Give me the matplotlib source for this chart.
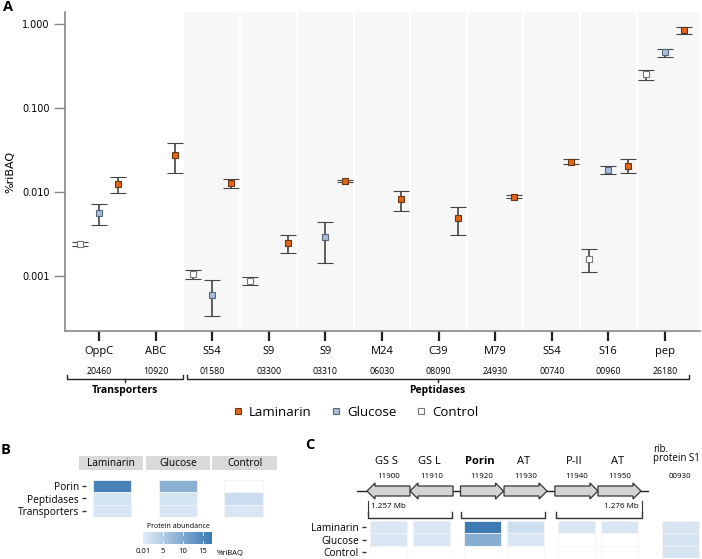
import numpy as np
import matplotlib
matplotlib.use("Agg")
import matplotlib.pyplot as plt
from matplotlib import transforms
from matplotlib.colors import LinearSegmentedColormap, Normalize
from matplotlib.lines import Line2D
from matplotlib.patches import FancyArrow, Rectangle

plt.rcParams['font.family'] = ['Open Sans', 'DejaVu Sans']

# ---- panel A data (%riBAQ) ----
categories = ['OppC', 'ABC', 'S54', 'S9', 'S9', 'M24', 'C39', 'M79', 'S54', 'S16', 'pep']
gene_ids = ['20460', '10920', '01580', '03300', '03310', '06030', '08090', '24930', '00740', '00960', '26180']
nan = np.nan
lam_mean = [0.0123, 0.0273, 0.0127, 0.00247, 0.0135, 0.0082, 0.0049, 0.0088, 0.0230, 0.0206, 0.857]
lam_low = [0.0097, 0.0168, 0.0111, 0.00186, 0.0131, 0.0059, 0.0031, 0.0084, 0.0217, 0.0167, 0.767]
lam_high = [0.0150, 0.0380, 0.0142, 0.00308, 0.0139, 0.0104, 0.0067, 0.0092, 0.0244, 0.0247, 0.930]
glu_mean = [0.0056, nan, 0.00060, nan, 0.00294, nan, nan, nan, nan, 0.0184, 0.460]
glu_low = [0.0041, nan, 0.00033, nan, 0.00143, nan, nan, nan, nan, 0.0165, 0.408]
glu_high = [0.0071, nan, 0.00089, nan, 0.00443, nan, nan, nan, nan, 0.0206, 0.504]
ctl_mean = [0.0024, nan, 0.00105, 0.00088, nan, nan, nan, nan, nan, 0.00159, 0.252]
ctl_low = [0.00225, nan, 0.00091, 0.00078, nan, nan, nan, nan, nan, 0.00111, 0.217]
ctl_high = [0.00255, nan, 0.00119, 0.00098, nan, nan, nan, nan, nan, 0.00207, 0.286]

# ---- panel B data ----
hm_rows = ['Porin', 'Peptidases', 'Transporters']
hm_cols = ['Laminarin', 'Glucose', 'Control']
hm_lam = [16.0, 1.4, 1.1]
hm_glu = [9.0, 1.3, 1.1]
hm_ctl = [nan, 2.4, 0.9]

# ---- panel C data ----
c_genes = ['GS S', 'GS L', 'Porin', 'AT', 'P-II', 'AT']
c_ids = ['11900', '11910', '11920', '11930', '11940', '11950', '00930']
c_lam = [0.9, 0.9, 17.0, 2.2, 0.9, 0.9, 1.2]
c_glu = [0.9, 0.9, 9.5, 1.0, nan, nan, 1.2]
c_ctl = [nan, nan, nan, nan, nan, nan, 1.2]

cmap = LinearSegmentedColormap.from_list('abund', ['#e2edf8', '#3a78b3'])
norm = Normalize(vmin=0.01, vmax=17.3)

W, H = 702, 559
fig = plt.figure(figsize=(W / 100, H / 100), dpi=100)


def rect(x0, y0, x1, y1):
    return [x0 / W, 1 - y1 / H, (x1 - x0) / W, (y1 - y0) / H]


ov = fig.add_axes([0, 0, 1, 1])
ov.set_xlim(0, W)
ov.set_ylim(H, 0)
ov.axis('off')

# ================= panel A =================
ax = fig.add_axes(rect(65, 12, 700, 331))
x = np.arange(len(categories))
ax.set_yscale('log')
ax.set_xlim(-0.6, 10.62)
ax.set_ylim(10 ** -3.655, 10 ** 0.143)
ax.axvspan(1.5, 10.62, color='#f7f7f7', lw=0, zorder=0)
for b in np.arange(2.5, 10, 1):
    ax.axvline(b, color='white', lw=1.5, zorder=0.5)

series = [
    ('Control', -0.34, ctl_mean, ctl_low, ctl_high, 'white', '#777777'),
    ('Glucose', 0.0, glu_mean, glu_low, glu_high, '#a9bdd8', '#55657a'),
    ('Laminarin', 0.34, lam_mean, lam_low, lam_high, '#e0661c', '#6b3510'),
]
for name, off, m, lo, hi, fc, ec in series:
    m, lo, hi = np.array(m), np.array(lo), np.array(hi)
    ok = ~np.isnan(m)
    ax.errorbar(x[ok] + off, m[ok], yerr=[m[ok] - lo[ok], hi[ok] - m[ok]],
                fmt='s', ms=4.6, mfc=fc, mec=ec, mew=0.8,
                ecolor='#444444', elinewidth=1.2, capsize=5.8, capthick=1.2, zorder=3)

ax.set_yticks([0.001, 0.01, 0.1, 1])
ax.set_yticklabels(['0.001', '0.010', '0.100', '1.000'], family='DejaVu Sans', fontsize=7)
ax.yaxis.set_minor_locator(matplotlib.ticker.NullLocator())
ax.tick_params(axis='y', length=8, width=1, color='#888888', pad=3)
ax.set_xticks(x)
ax.set_xticklabels(categories, fontsize=8)
ax.tick_params(axis='x', length=7.5, width=1.6, color='#222222', pad=3)
for s in ['top', 'right']:
    ax.spines[s].set_visible(False)
for s in ['left', 'bottom']:
    ax.spines[s].set_color('#888888')
    ax.spines[s].set_linewidth(1.2)
ax.set_ylabel('%riBAQ', family='DejaVu Sans', fontsize=8, labelpad=5)

bt = transforms.blended_transform_factory(ax.transData, ov.transData)
for i, gid in enumerate(gene_ids):
    ov.text(i, 371, gid, transform=bt, ha='center', va='center', fontsize=6.3)


def bracket_down(x0, x1, y, label):
    ov.plot([x0, x0, x1, x1], [y - 4, y, y, y - 4], transform=bt, color='#222222', lw=1)
    xm = (x0 + x1) / 2
    ov.plot([xm, xm], [y, y + 3], transform=bt, color='#222222', lw=1)
    ov.text(xm, y + 12, label, transform=bt, ha='center', va='center',
            fontsize=7.5, fontweight='bold')


bracket_down(-0.56, 1.48, 379, 'Transporters')
bracket_down(1.55, 10.42, 379, 'Peptidases')

handles = [Line2D([], [], marker='s', ls='', ms=5, mfc=fc, mec=ec, mew=0.8, label=name)
           for name, off, m, lo, hi, fc, ec in series[::-1]]
fig.legend(handles=handles, loc='center', bbox_to_anchor=(356 / W, 1 - 412 / H), ncol=3,
           frameon=False, fontsize=9.5, handlelength=0.6, handletextpad=0.5, columnspacing=1.6)

ov.text(3, 7, 'A', fontsize=10.5, fontweight='bold', ha='left', va='center')
ov.text(1, 450, 'B', fontsize=10.5, fontweight='bold', ha='left', va='center')
ov.text(305, 445, 'C', fontsize=10.5, fontweight='bold', ha='left', va='center')


def cell_color(v):
    return 'white' if np.isnan(v) else cmap(norm(v))


# ================= panel B =================
strips = [(79, 143), (146, 210), (212, 277)]
for (x0, x1), name in zip(strips, hm_cols):
    ov.add_patch(Rectangle((x0, 456), x1 - x0, 14, color='#d9d9d9', lw=0))
    ov.text((x0 + x1) / 2, 463.5, name, ha='center', va='center', fontsize=7.3)

axb = fig.add_axes(rect(86, 480, 277, 517))
axb.set_xlim(-0.396, 2.51)
axb.set_ylim(2.5, -0.5)
for j, col in enumerate([hm_lam, hm_glu, hm_ctl]):
    for i, v in enumerate(col):
        axb.bar(j, 1, bottom=i - 0.5, width=0.58, color=cell_color(v),
                edgecolor='#f4f4f4', lw=0.6)
axb.set_yticks(range(len(hm_rows)))
axb.set_yticklabels(hm_rows, fontsize=7.3)
axb.set_xticks([])
axb.tick_params(axis='y', length=3, width=1, color='#333333', pad=2)
for s in axb.spines.values():
    s.set_visible(False)
axb.patch.set_alpha(0)

# colorbar
axcb = fig.add_axes(rect(143, 532, 212, 544))
grad = np.linspace(0.01, 17.3, 200).reshape(1, -1)
axcb.imshow(grad, cmap=cmap, norm=norm, aspect='auto', extent=[0.01, 17.3, 0, 1])
axcb.set_xlim(0.01, 17.3)
for t in [5, 10, 15]:
    axcb.plot([t, t], [0, 0.25], color='white', lw=0.6)
    axcb.plot([t, t], [0.75, 1], color='white', lw=0.6)
axcb.set_xticks([0.01, 5, 10, 15])
axcb.set_xticklabels(['0.01', '5', '10', '15'], fontsize=5.5)
axcb.tick_params(axis='x', length=0, pad=3)
axcb.set_yticks([])
for s in axcb.spines.values():
    s.set_visible(False)
ov.text(217, 553, '%riBAQ', fontsize=5.5, ha='left', va='center')
ov.text(178, 526.5, 'Protein abundance', fontsize=5, ha='center', va='center')

# ================= panel C =================
c_pos = [0, 0.99, 2.15, 3.15, 4.32, 5.31, 6.71]   # gene slots
c_x0, c_unit = 388.5, 43.5
c_px = [c_x0 + p * c_unit for p in c_pos]
c_dir = [-1, -1, 1, 1, 1, 1]

ov.plot([357, 648], [491, 491], color='#222222', lw=1, zorder=1)
for cx, d in zip(c_px[:6], c_dir):
    start = cx - d * 21.5
    ov.add_patch(FancyArrow(start, 491, d * 43, 0, width=10, head_width=16, head_length=8,
                            length_includes_head=True, fc='#d4d4d4', ec='#333333', lw=0.9,
                            zorder=2))
for cx, g in zip(c_px, c_genes):
    ov.text(cx - 2, 461, g, ha='center', va='center', fontsize=8,
            fontweight='bold' if g == 'Porin' else 'normal')
for cx, gid in zip(c_px, c_ids):
    ov.text(cx, 477, gid, ha='center', va='center', fontsize=5.8)
ov.text(653, 449, 'rib.', ha='left', va='center', fontsize=7)
ov.text(653, 458.5, 'protein S1', ha='left', va='center', fontsize=7)

ov.plot([368, 368], [501, 512], color='#333333', lw=0.8)
ov.plot([642, 642], [501, 512], color='#333333', lw=0.8)
ov.text(371, 507, '1.257 Mb', ha='left', va='center', fontsize=5.8)
ov.text(639, 507, '1.276 Mb', ha='right', va='center', fontsize=5.8)
for x0, x1 in [(368, 452), (461, 545), (556, 642)]:
    ov.plot([x0, x0, x1, x1], [512, 518, 518, 512], color='#333333', lw=1)

axc = fig.add_axes(rect(366, 521, 702, 558))
axc.set_xlim((366 - c_x0) / c_unit, (702 - c_x0) / c_unit)
axc.set_ylim(2.5, -0.5)
for i, row in enumerate([c_lam, c_glu, c_ctl]):
    for p, v in zip(c_pos, row):
        axc.bar(p, 1, bottom=i - 0.5, width=0.85, color=cell_color(v),
                edgecolor='#f4f4f4', lw=0.6)
axc.set_yticks(range(3))
axc.set_yticklabels(hm_cols, fontsize=7.3)
axc.set_xticks([])
axc.tick_params(axis='y', length=3, width=1, color='#333333', pad=2)
for s in axc.spines.values():
    s.set_visible(False)
axc.patch.set_alpha(0)

fig.savefig('out.png', dpi=100)
